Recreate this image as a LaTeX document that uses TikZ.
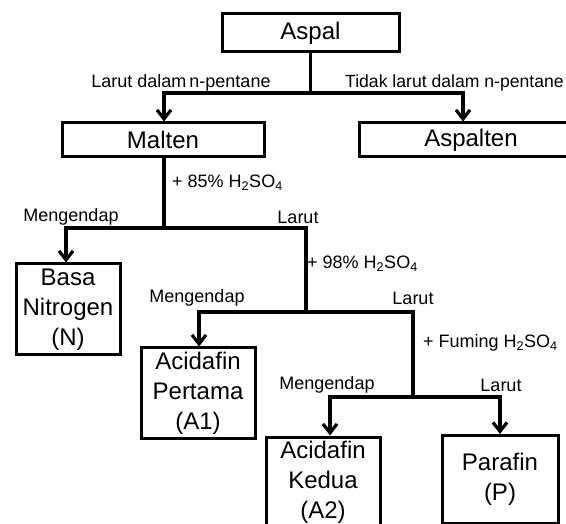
\documentclass[tikz,border=0pt]{standalone}
\usepackage{fontspec}
\setmainfont{Liberation Sans}
\usetikzlibrary{arrows.meta}
\begin{document}
\begin{tikzpicture}[x=1pt,y=-1pt,
  box/.style={draw, line width=3pt, inner sep=0pt, align=center,
    font=\fontsize{24}{30}\selectfont},
  lbl/.style={inner sep=0pt, font=\fontsize{18}{21}\selectfont},
  conn/.style={line width=3.4pt, line join=miter, line cap=rect},
  arr/.style={conn, -{Straight Barb[length=9pt,width=14pt,line width=3.2pt]}},
  darr/.style={conn, {Straight Barb[length=9pt,width=14pt,line width=3.2pt]}-{Straight Barb[length=9pt,width=14pt,line width=3.2pt]}},
  ]
\useasboundingbox (0,0) rectangle (566,524);
\clip (0,0) rectangle (566,524);
\fill[white] (0,0) rectangle (566,524);

% boxes
\node[box, minimum width=177pt, minimum height=38pt] (aspal) at (310.5,33) {Aspal};
\node[box, minimum width=202pt, minimum height=34pt] (malten) at (163,140) {Malten};
\node[box, minimum width=224pt, minimum height=34pt] (aspalten) at (471,140) {Aspalten};
\node[box, minimum width=104pt, minimum height=91pt] (basa) at (68,309.5) {Basa\\Nitrogen\\(N)};
\node[box, minimum width=114pt, minimum height=90pt] (a1) at (198,393) {Acidafin\\Pertama\\(A1)};
\node[box, minimum width=114pt, minimum height=90pt] (a2) at (323,482) {Acidafin\\Kedua\\(A2)};
\node[box, minimum width=116pt, minimum height=88pt] (par) at (500,479.5) {Parafin\\(P)};

% junctions
\coordinate (j1) at (310.5,93);
\coordinate (j2) at (164,228);
\coordinate (j4) at (306,312);
\coordinate (j6) at (413,397);

% connectors
\draw[conn] (aspal.south) -- (j1);
\draw[darr] ([xshift=1pt]malten.north) |- (j1) -| ([xshift=-8pt]aspalten.north);
\draw[conn] ([xshift=1pt]malten.south) -- (j2);
\draw[arr] (j4) |- (j2) -| ([xshift=-2pt]basa.north);
\draw[arr] (j6) |- (j4) -| ([xshift=1pt]a1.north);
\draw[darr] ([xshift=7pt]a2.north) |- (j6) -| (par.north);

% labels
\node[lbl] (l1) at (181,83) {Larut dalam\hspace{-2pt} n-pentane};
\node[lbl, anchor=west, font=\fontsize{17.6}{21}\selectfont] (l2) at (345,83) {Tidak larut dalam n-pentane};
\node[lbl, anchor=west] (l3) at (172,183) {+ 85\% H\textsubscript{2}SO\textsubscript{4}};
\node[lbl] (l4) at (71,217) {Mengendap};
\node[lbl] (l5) at (298,217) {Larut};
\node[lbl, anchor=west] (l6) at (307,264) {+ 98\% H\textsubscript{2}SO\textsubscript{4}};
\node[lbl] (l7) at (197,298) {Mengendap};
\node[lbl] (l8) at (413,298) {Larut};
\node[lbl, anchor=west] (l9) at (423,343) {+ Fuming H\textsubscript{2}SO\textsubscript{4}};
\node[lbl] (l10) at (327,385) {Mengendap};
\node[lbl] (l11) at (501,385) {Larut};
\end{tikzpicture}
\end{document}
